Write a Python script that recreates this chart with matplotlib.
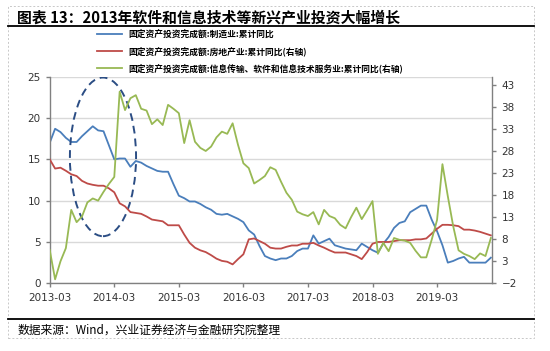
import matplotlib
matplotlib.use("Agg")
import matplotlib.pyplot as plt
from matplotlib.patches import Ellipse, Rectangle
from matplotlib.lines import Line2D
import pandas as pd

# monthly points, 2013-03 onwards
months = pd.period_range("2013-03", periods=83, freq="M")

# 制造业 累计同比 (left axis)
manufacturing = [
    17.0, 18.7, 18.3, 17.6, 17.1, 17.1, 17.8, 18.4, 19.0, 18.5,
    18.4, 16.7, 15.0, 15.1, 15.1, 14.1, 14.8, 14.6, 14.2, 13.9,
    13.6, 13.5, 13.5, 12.0, 10.6, 10.3, 9.9, 9.9, 9.6, 9.2,
    8.9, 8.4, 8.3, 8.4, 8.1, 7.8, 7.4, 6.4, 5.9, 4.5,
    3.3, 3.0, 2.8, 3.0, 3.0, 3.3, 3.9, 4.2, 4.2, 5.8,
    4.8, 5.1, 5.4, 4.6, 4.4, 4.2, 4.1, 4.0, 4.8, 4.4,
    4.0, 3.7, 4.8, 5.6, 6.7, 7.3, 7.5, 8.6, 9.0, 9.4,
    9.4, 7.7, 6.3, 4.6, 2.5, 2.7, 3.0, 3.2, 2.5, 2.5,
    2.5, 2.5, 3.1,
]

# 房地产业 累计同比 (right axis)
real_estate = [
    26.2, 24.1, 24.3, 23.6, 22.8, 22.4, 21.3, 20.7, 20.4, 20.2,
    20.2, 19.6, 18.7, 16.2, 15.5, 14.2, 14.0, 13.8, 13.2, 12.5,
    12.3, 12.1, 11.2, 11.2, 11.2, 9.1, 7.2, 6.1, 5.5, 5.1,
    4.4, 3.6, 3.1, 2.9, 2.3, 3.5, 4.6, 8.0, 8.2, 7.6,
    7.0, 6.1, 5.9, 5.9, 6.3, 6.6, 6.6, 7.0, 7.0, 7.2,
    6.6, 6.1, 5.5, 5.0, 5.0, 5.0, 4.6, 4.2, 3.5, 5.1,
    7.0, 7.4, 7.4, 7.4, 7.6, 7.8, 7.8, 7.8, 8.0, 8.0,
    8.2, 9.3, 10.4, 11.3, 11.3, 11.2, 11.0, 10.2, 10.2, 10.0,
    9.7, 9.3, 8.9,
]

# 信息传输、软件和信息技术服务业 累计同比 (right axis)
software_it = [
    5.6, -1.1, 3.0, 6.0, 14.7, 11.9, 13.2, 16.4, 17.3, 16.8,
    18.8, 20.6, 22.2, 41.6, 37.4, 40.1, 40.8, 37.7, 37.3, 34.2,
    35.3, 34.0, 38.6, 37.7, 36.7, 29.9, 35.1, 30.2, 28.8, 28.1,
    29.1, 31.2, 32.5, 32.0, 34.4, 29.5, 25.3, 24.2, 20.7, 21.5,
    22.4, 24.4, 23.8, 21.1, 18.6, 17.0, 14.3, 13.7, 13.3, 14.2,
    11.4, 14.7, 13.3, 12.8, 11.3, 10.5, 13.0, 15.2, 12.6, 14.6,
    16.7, 4.7, 7.2, 5.3, 8.3, 7.9, 7.7, 7.2, 5.4, 3.9,
    3.9, 7.9, 12.4, 25.1, 17.8, 11.0, 5.5, 4.7, 4.2, 3.5,
    4.8, 4.2, 8.3,
]

labels = [
    "固定资产投资完成额:制造业:累计同比",
    "固定资产投资完成额:房地产业:累计同比(右轴)",
    "固定资产投资完成额:信息传输、软件和信息技术服务业:累计同比(右轴)",
]
colors = ["#4A7EBB", "#BE4B48", "#98B954"]

left_ticks = [0, 5, 10, 15, 20, 25]
right_ticks = [-2, 3, 8, 13, 18, 23, 28, 33, 38, 43]

cjk = ["Noto Sans CJK SC", "DejaVu Sans"]
plt.rcParams["font.family"] = ["DejaVu Sans"]

x = list(range(len(months)))

fig = plt.figure(figsize=(5.5, 3.51), dpi=100)
ax = fig.add_axes([0.0904, 0.1929, 0.805, 0.5886])
ax2 = ax.twinx()

ax.plot(x, manufacturing, color=colors[0], lw=1.3)
ax2.plot(x, real_estate, color=colors[1], lw=1.3)
ax2.plot(x, software_it, color=colors[2], lw=1.3)

# dashed ellipse highlighting 2013-2014
ax.add_patch(Ellipse((9.9, 15.3), 12.3, 19.2, fill=False, ec="#2B4D84",
                     lw=1.4, ls=(0, (4, 2.6)), zorder=5))

ax.set_xlim(0, 82.3)
ax.set_ylim(0, 25)
ax2.set_ylim(-2, 45)
ax.set_yticks(left_ticks)
ax2.set_yticks(right_ticks)

tick_pos = [i for i, m in enumerate(months) if m.month == 3]
ax.set_xticks(tick_pos)
ax.set_xticklabels([months[i].strftime("%Y-%m") for i in tick_pos])

ax.grid(axis="y", color="#D9D9D9", lw=1)
ax.set_axisbelow(True)
for a in (ax, ax2):
    a.spines["top"].set_visible(False)
    for s in ("left", "right", "bottom"):
        a.spines[s].set_color("#808080")
        a.spines[s].set_linewidth(1)
    a.tick_params(colors="#808080", labelcolor="#333333", labelsize=7.5,
                  length=3, width=1)
ax.spines["right"].set_visible(False)
ax2.spines["left"].set_visible(False)
ax2.spines["bottom"].set_visible(False)
ax.tick_params(axis="x", pad=4)

# legend above the plot
handles = [Line2D([], [], color=c, lw=1.3) for c in colors]
fig.legend(handles, labels, loc="upper left", bbox_to_anchor=(0.176, 0.915),
           frameon=False, prop={"family": cjk, "size": 6.3, "weight": "bold"},
           handlelength=2.9, handletextpad=0.7, labelspacing=0.85,
           borderpad=0, borderaxespad=0)

# title, rules, source and frame
fig.text(0.031, 0.951, "图表 13：2013年软件和信息技术等新兴产业投资大幅增长",
         family=cjk, fontsize=10.7, weight="bold", va="center")
fig.add_artist(Line2D([0.0145, 0.971], [0.926, 0.926], color="black", lw=1.3))
fig.add_artist(Line2D([0.0145, 0.971], [0.091, 0.091], color="black", lw=1.3))
fig.text(0.031, 0.059, "数据来源：Wind，兴业证券经济与金融研究院整理",
         family=cjk, fontsize=8.5, va="center")
fig.add_artist(Rectangle((0.0145, 0.037), 0.9565, 0.946, fill=False,
                         ec="#C8C8C8", lw=0.7, ls=(0, (2, 2))))

fig.savefig("out.png", dpi=100)
